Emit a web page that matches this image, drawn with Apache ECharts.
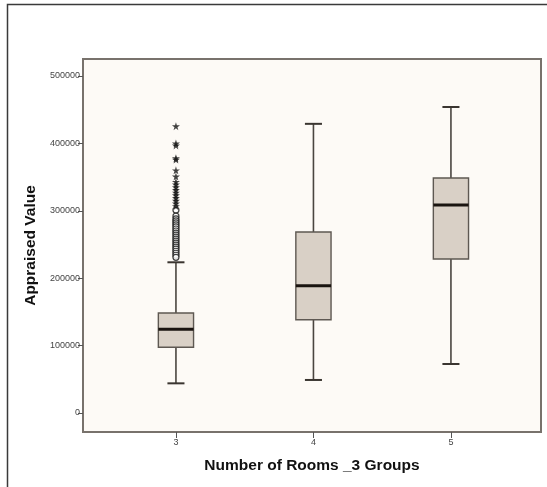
<!DOCTYPE html>
<html>
<head>
<meta charset="utf-8">
<script src="https://cdn.jsdelivr.net/npm/echarts@6/dist/echarts.min.js"></script>
<style>
html,body{margin:0;padding:0;background:#fff;}
#chart{width:547px;height:487px;}
</style>
</head>
<body>
<div id="chart"></div>
<script>
// ---- Data ----
const groups = [3, 4, 5];
const whiskerLow = [44000, 49000, 72700];
const q1 = [97500, 138400, 228500];
const medians = [124200, 188900, 308600];
const q3 = [148400, 268500, 348700];
const whiskerHigh = [223600, 429000, 454000];

// outliers for group 3 (circles = mild, stars = extreme)
const circleOutliers = [301000, 292000, 288000, 285000, 282000, 279000, 276000, 273000, 270000, 267000, 264000, 261000, 258000, 255000, 252000, 249000, 246000, 243000, 240000, 237000, 234000, 231000];
const starOutliers = [425500, 400000, 397000, 378000, 376000, 360000, 351000, 343000, 339000, 335000, 331000, 327000, 323000, 319000, 315000, 311000, 307000];
const yTicks = [0, 100000, 200000, 300000, 400000, 500000];

const chart = echarts.init(document.getElementById('chart'), null, {renderer: 'canvas'});

const boxData = groups.map((g, i) => [g, whiskerLow[i], q1[i], medians[i], q3[i], whiskerHigh[i]]);
const starPath = 'path://M50,0 L61,35 L98,35 L68,57 L79,91 L50,70 L21,91 L32,57 L2,35 L39,35 Z';

const option = {
  animation: false,
  backgroundColor: '#ffffff',
  graphic: [{
    type: 'rect',
    shape: {x: 7.5, y: 4.5, width: 700, height: 700},
    style: {fill: 'none', stroke: '#3a3a3a', lineWidth: 1.5},
    silent: true, z: -10
  }],
  grid: {
    left: 83, top: 59, right: 6, bottom: 55,
    show: true, backgroundColor: '#FDFAF6', borderColor: '#78726C', borderWidth: 2
  },
  xAxis: {
    type: 'value', min: 2.324, max: 5.655,
    name: 'Number of Rooms _3 Groups',
    nameLocation: 'middle', nameGap: 26,
    nameTextStyle: {fontFamily: 'Liberation Sans', fontWeight: 'bold', fontSize: 15.5, color: '#111'},
    axisLine: {show: false, onZero: false},
    splitLine: {show: false},
    axisTick: {show: true, length: 6, inside: false, customValues: groups, lineStyle: {color: '#555', width: 1}},
    axisLabel: {customValues: groups, fontFamily: 'Liberation Sans', fontSize: 9, color: '#444', margin: 6,
      formatter: v => String(v)}
  },
  yAxis: {
    type: 'value', min: -28200, max: 525200,
    name: 'Appraised Value',
    nameLocation: 'middle', nameGap: 44,
    nameTextStyle: {fontFamily: 'Liberation Sans', fontWeight: 'bold', fontSize: 15.5, color: '#111'},
    axisLine: {show: false, onZero: false},
    splitLine: {show: false},
    axisTick: {show: true, length: 5, customValues: yTicks, lineStyle: {color: '#555', width: 1}},
    axisLabel: {customValues: yTicks, fontFamily: 'Liberation Sans', fontSize: 9, color: '#444', margin: 3,
      formatter: v => String(v)}
  },
  series: [{
    type: 'custom',
    data: boxData,
    z: 2,
    renderItem: function (params, api) {
      const x = api.value(0);
      const lo = api.coord([x, api.value(1)]);
      const b1 = api.coord([x, api.value(2)]);
      const md = api.coord([x, api.value(3)]);
      const b3 = api.coord([x, api.value(4)]);
      const hi = api.coord([x, api.value(5)]);
      const hw = api.size([0.128, 0])[0];
      const cw = api.size([0.062, 0])[0];
      const lineStyle = {stroke: '#4a4540', lineWidth: 1.6};
      return {
        type: 'group',
        children: [
          {type: 'line', shape: {x1: lo[0], y1: lo[1], x2: b1[0], y2: b1[1]}, style: lineStyle},
          {type: 'line', shape: {x1: b3[0], y1: b3[1], x2: hi[0], y2: hi[1]}, style: lineStyle},
          {type: 'line', shape: {x1: lo[0] - cw, y1: lo[1], x2: lo[0] + cw, y2: lo[1]}, style: {stroke: '#3a3530', lineWidth: 2}},
          {type: 'line', shape: {x1: hi[0] - cw, y1: hi[1], x2: hi[0] + cw, y2: hi[1]}, style: {stroke: '#3a3530', lineWidth: 2}},
          {type: 'rect', shape: {x: b3[0] - hw, y: b3[1], width: hw * 2, height: b1[1] - b3[1]},
            style: {fill: '#D9D0C6', stroke: '#5e5852', lineWidth: 1.4}},
          {type: 'line', shape: {x1: md[0] - hw, y1: md[1], x2: md[0] + hw, y2: md[1]}, style: {stroke: '#1a1410', lineWidth: 3}}
        ]
      };
    }
  }, {
    type: 'scatter',
    z: 3,
    data: circleOutliers.map(v => [groups[0], v]),
    symbol: 'circle', symbolSize: 6,
    itemStyle: {color: '#ffffff', borderColor: '#111', borderWidth: 1.2}
  }, {
    type: 'scatter',
    z: 3,
    data: starOutliers.map(v => [groups[0], v]),
    symbol: starPath, symbolSize: 8,
    itemStyle: {color: '#111'}
  }]
};
chart.setOption(option);
</script>
</body>
</html>
